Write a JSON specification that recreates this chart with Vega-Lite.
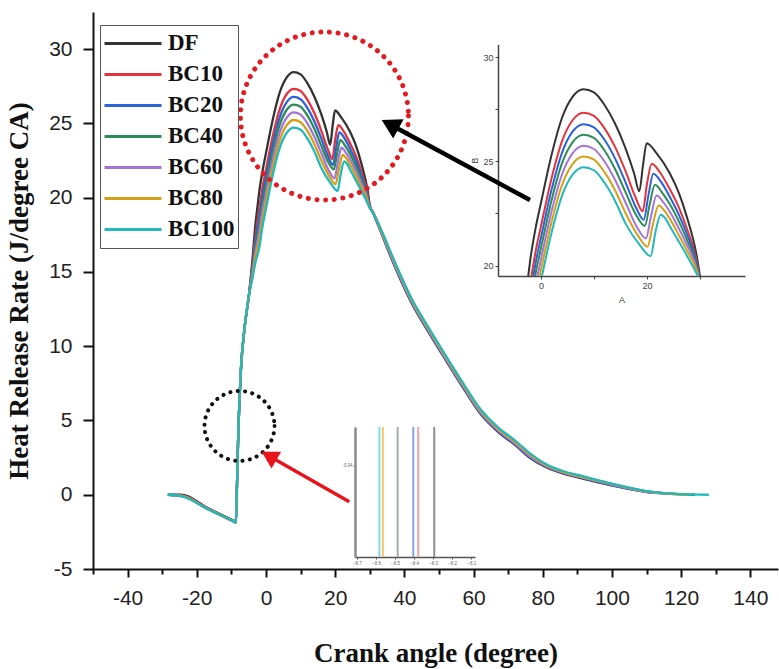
{
  "$schema": "https://vega.github.io/schema/vega-lite/v6.json",
  "autosize": {"type": "none"},
  "padding": {"left": 93, "top": 12, "right": 1, "bottom": 100},
  "width": 685,
  "height": 557,
  "background": "white",
  "config": {"view": {"stroke": null}, "axis": {"grid": false}},
  "datasets": {
    "hrr": [
      {"fuel":"DF","ca":-28.4,"hrr":0},{"fuel":"DF","ca":-24.5,"hrr":0},{"fuel":"DF","ca":-16.6,"hrr":-0.925},{"fuel":"DF","ca":-9.2,"hrr":-1.79},{"fuel":"DF","ca":-8.7,"hrr":-1.85},
      {"fuel":"DF","ca":-8.45,"hrr":0},{"fuel":"DF","ca":-8,"hrr":4.2},{"fuel":"DF","ca":-7.2,"hrr":8.6},{"fuel":"DF","ca":-6.3,"hrr":11},{"fuel":"DF","ca":-5,"hrr":13.3},
      {"fuel":"DF","ca":-4,"hrr":15.6},{"fuel":"DF","ca":-3,"hrr":18.3},{"fuel":"DF","ca":-2.4,"hrr":19.5},{"fuel":"DF","ca":-2,"hrr":20.3},{"fuel":"DF","ca":-1,"hrr":21.8},{"fuel":"DF","ca":0,"hrr":23},{"fuel":"DF","ca":2,"hrr":25.3},{"fuel":"DF","ca":4,"hrr":27.1},{"fuel":"DF","ca":6,"hrr":28.1},{"fuel":"DF","ca":8,"hrr":28.45},{"fuel":"DF","ca":10,"hrr":28.3},{"fuel":"DF","ca":12,"hrr":27.7},{"fuel":"DF","ca":14,"hrr":26.8},{"fuel":"DF","ca":16,"hrr":25.6},{"fuel":"DF","ca":17.6,"hrr":24.4},{"fuel":"DF","ca":18.55,"hrr":23.56},{"fuel":"DF","ca":19.3,"hrr":24.9},{"fuel":"DF","ca":19.95,"hrr":25.87},{"fuel":"DF","ca":21.8,"hrr":25.39},{"fuel":"DF","ca":24.3,"hrr":24.43},{"fuel":"DF","ca":26,"hrr":23.5},{"fuel":"DF","ca":27.5,"hrr":22.36},{"fuel":"DF","ca":29.4,"hrr":20.45},{"fuel":"DF","ca":30,"hrr":19.5},{"fuel":"DF","ca":31,"hrr":18.95},
      {"fuel":"DF","ca":33.2,"hrr":17.7},{"fuel":"DF","ca":36,"hrr":16.05},{"fuel":"DF","ca":42,"hrr":12.95},{"fuel":"DF","ca":47,"hrr":10.95},{"fuel":"DF","ca":52,"hrr":9.05},{"fuel":"DF","ca":57,"hrr":7.2},{"fuel":"DF","ca":62,"hrr":5.45},{"fuel":"DF","ca":67,"hrr":4.25},{"fuel":"DF","ca":72,"hrr":3.35},{"fuel":"DF","ca":76.5,"hrr":2.45},{"fuel":"DF","ca":81,"hrr":1.85},{"fuel":"DF","ca":86,"hrr":1.42},{"fuel":"DF","ca":91,"hrr":1.12},{"fuel":"DF","ca":100.5,"hrr":0.6},{"fuel":"DF","ca":111,"hrr":0.15},

      {"fuel":"BC10","ca":-28.3,"hrr":0},{"fuel":"BC10","ca":-24.3,"hrr":-0.05},{"fuel":"BC10","ca":-16.6,"hrr":-0.95},{"fuel":"BC10","ca":-9.2,"hrr":-1.77},{"fuel":"BC10","ca":-8.75,"hrr":-1.82},
      {"fuel":"BC10","ca":-8.45,"hrr":0},{"fuel":"BC10","ca":-8,"hrr":4.2},{"fuel":"BC10","ca":-7.2,"hrr":8.6},{"fuel":"BC10","ca":-6.3,"hrr":11},{"fuel":"BC10","ca":-5,"hrr":13.3},
      {"fuel":"BC10","ca":-4,"hrr":15.26},{"fuel":"BC10","ca":-3,"hrr":17.52},{"fuel":"BC10","ca":-2,"hrr":19.18},{"fuel":"BC10","ca":-1.79,"hrr":19.5},{"fuel":"BC10","ca":-1,"hrr":20.68},{"fuel":"BC10","ca":0,"hrr":21.88},{"fuel":"BC10","ca":2,"hrr":24.18},{"fuel":"BC10","ca":4,"hrr":25.98},{"fuel":"BC10","ca":6,"hrr":26.98},{"fuel":"BC10","ca":8,"hrr":27.33},{"fuel":"BC10","ca":10,"hrr":27.18},{"fuel":"BC10","ca":12,"hrr":26.58},{"fuel":"BC10","ca":14,"hrr":25.68},{"fuel":"BC10","ca":16,"hrr":24.5},{"fuel":"BC10","ca":17.8,"hrr":23.3},{"fuel":"BC10","ca":19.2,"hrr":22.6},{"fuel":"BC10","ca":20,"hrr":23.9},{"fuel":"BC10","ca":20.9,"hrr":24.88},{"fuel":"BC10","ca":22.5,"hrr":24.45},{"fuel":"BC10","ca":24.3,"hrr":23.67},{"fuel":"BC10","ca":26,"hrr":22.8},{"fuel":"BC10","ca":27.5,"hrr":21.8},{"fuel":"BC10","ca":29.4,"hrr":20.2},{"fuel":"BC10","ca":29.9,"hrr":19.5},{"fuel":"BC10","ca":31,"hrr":18.97},
      {"fuel":"BC10","ca":33.2,"hrr":17.85},{"fuel":"BC10","ca":36,"hrr":16.3},{"fuel":"BC10","ca":42,"hrr":13.2},{"fuel":"BC10","ca":47,"hrr":11.2},{"fuel":"BC10","ca":52,"hrr":9.3},{"fuel":"BC10","ca":57,"hrr":7.45},{"fuel":"BC10","ca":62,"hrr":5.7},{"fuel":"BC10","ca":67,"hrr":4.5},{"fuel":"BC10","ca":72,"hrr":3.6},{"fuel":"BC10","ca":76.5,"hrr":2.7},{"fuel":"BC10","ca":81,"hrr":2.0},{"fuel":"BC10","ca":86,"hrr":1.55},{"fuel":"BC10","ca":91,"hrr":1.25},{"fuel":"BC10","ca":100.5,"hrr":0.7},{"fuel":"BC10","ca":110,"hrr":0.22},{"fuel":"BC10","ca":120,"hrr":0.03},

      {"fuel":"BC20","ca":-28.2,"hrr":0},{"fuel":"BC20","ca":-24.2,"hrr":-0.08},{"fuel":"BC20","ca":-16.6,"hrr":-1.0},{"fuel":"BC20","ca":-9.2,"hrr":-1.84},{"fuel":"BC20","ca":-8.7,"hrr":-1.9},
      {"fuel":"BC20","ca":-8.45,"hrr":0},{"fuel":"BC20","ca":-8,"hrr":4.2},{"fuel":"BC20","ca":-7.2,"hrr":8.6},{"fuel":"BC20","ca":-6.3,"hrr":11},{"fuel":"BC20","ca":-5,"hrr":13.3},
      {"fuel":"BC20","ca":-4,"hrr":15.1},{"fuel":"BC20","ca":-3,"hrr":17.13},{"fuel":"BC20","ca":-2,"hrr":18.63},{"fuel":"BC20","ca":-1.42,"hrr":19.5},{"fuel":"BC20","ca":-1,"hrr":20.13},{"fuel":"BC20","ca":0,"hrr":21.33},{"fuel":"BC20","ca":2,"hrr":23.63},{"fuel":"BC20","ca":4,"hrr":25.43},{"fuel":"BC20","ca":6,"hrr":26.43},{"fuel":"BC20","ca":8,"hrr":26.78},{"fuel":"BC20","ca":10,"hrr":26.63},{"fuel":"BC20","ca":12,"hrr":26.03},{"fuel":"BC20","ca":14,"hrr":25.13},{"fuel":"BC20","ca":16,"hrr":23.97},{"fuel":"BC20","ca":17.9,"hrr":22.8},{"fuel":"BC20","ca":19.4,"hrr":22.2},{"fuel":"BC20","ca":20.3,"hrr":23.4},{"fuel":"BC20","ca":21.2,"hrr":24.4},{"fuel":"BC20","ca":22.7,"hrr":24.0},{"fuel":"BC20","ca":24.3,"hrr":23.3},{"fuel":"BC20","ca":26,"hrr":22.45},{"fuel":"BC20","ca":27.5,"hrr":21.53},{"fuel":"BC20","ca":29.4,"hrr":20.07},{"fuel":"BC20","ca":29.85,"hrr":19.5},{"fuel":"BC20","ca":31,"hrr":18.98},
      {"fuel":"BC20","ca":33.2,"hrr":17.75},{"fuel":"BC20","ca":36,"hrr":16.1},{"fuel":"BC20","ca":42,"hrr":13.0},{"fuel":"BC20","ca":47,"hrr":11.0},{"fuel":"BC20","ca":52,"hrr":9.1},{"fuel":"BC20","ca":57,"hrr":7.25},{"fuel":"BC20","ca":62,"hrr":5.5},{"fuel":"BC20","ca":67,"hrr":4.3},{"fuel":"BC20","ca":72,"hrr":3.4},{"fuel":"BC20","ca":76.5,"hrr":2.5},{"fuel":"BC20","ca":81,"hrr":1.9},{"fuel":"BC20","ca":86,"hrr":1.45},{"fuel":"BC20","ca":91,"hrr":1.15},{"fuel":"BC20","ca":100.5,"hrr":0.62},{"fuel":"BC20","ca":110,"hrr":0.2},{"fuel":"BC20","ca":116,"hrr":0.08},

      {"fuel":"BC40","ca":-28.3,"hrr":0},{"fuel":"BC40","ca":-24,"hrr":-0.1},{"fuel":"BC40","ca":-16.6,"hrr":-0.97},{"fuel":"BC40","ca":-9.2,"hrr":-1.75},{"fuel":"BC40","ca":-8.65,"hrr":-1.8},
      {"fuel":"BC40","ca":-8.45,"hrr":0},{"fuel":"BC40","ca":-8,"hrr":4.2},{"fuel":"BC40","ca":-7.2,"hrr":8.6},{"fuel":"BC40","ca":-6.3,"hrr":11},{"fuel":"BC40","ca":-5,"hrr":13.3},
      {"fuel":"BC40","ca":-4,"hrr":14.95},{"fuel":"BC40","ca":-3,"hrr":16.77},{"fuel":"BC40","ca":-2,"hrr":18.12},{"fuel":"BC40","ca":-1.08,"hrr":19.5},{"fuel":"BC40","ca":-1,"hrr":19.62},{"fuel":"BC40","ca":0,"hrr":20.82},{"fuel":"BC40","ca":2,"hrr":23.12},{"fuel":"BC40","ca":4,"hrr":24.92},{"fuel":"BC40","ca":6,"hrr":25.92},{"fuel":"BC40","ca":8,"hrr":26.27},{"fuel":"BC40","ca":10,"hrr":26.12},{"fuel":"BC40","ca":12,"hrr":25.52},{"fuel":"BC40","ca":14,"hrr":24.62},{"fuel":"BC40","ca":16,"hrr":23.5},{"fuel":"BC40","ca":18,"hrr":22.4},{"fuel":"BC40","ca":19.6,"hrr":21.9},{"fuel":"BC40","ca":20.5,"hrr":22.9},{"fuel":"BC40","ca":21.5,"hrr":23.87},{"fuel":"BC40","ca":23,"hrr":23.45},{"fuel":"BC40","ca":24.3,"hrr":22.95},{"fuel":"BC40","ca":26,"hrr":22.13},{"fuel":"BC40","ca":27.5,"hrr":21.27},{"fuel":"BC40","ca":29.4,"hrr":19.95},{"fuel":"BC40","ca":29.8,"hrr":19.5},{"fuel":"BC40","ca":31,"hrr":18.98},
      {"fuel":"BC40","ca":33.2,"hrr":17.8},{"fuel":"BC40","ca":36,"hrr":16.2},{"fuel":"BC40","ca":42,"hrr":13.1},{"fuel":"BC40","ca":47,"hrr":11.1},{"fuel":"BC40","ca":52,"hrr":9.2},{"fuel":"BC40","ca":57,"hrr":7.35},{"fuel":"BC40","ca":62,"hrr":5.6},{"fuel":"BC40","ca":67,"hrr":4.4},{"fuel":"BC40","ca":72,"hrr":3.5},{"fuel":"BC40","ca":76.5,"hrr":2.6},{"fuel":"BC40","ca":81,"hrr":1.95},{"fuel":"BC40","ca":86,"hrr":1.5},{"fuel":"BC40","ca":91,"hrr":1.2},{"fuel":"BC40","ca":100.5,"hrr":0.67},{"fuel":"BC40","ca":110,"hrr":0.22},{"fuel":"BC40","ca":120,"hrr":0.02},{"fuel":"BC40","ca":124,"hrr":0},

      {"fuel":"BC60","ca":-28.2,"hrr":0},{"fuel":"BC60","ca":-24.4,"hrr":-0.06},{"fuel":"BC60","ca":-16.6,"hrr":-0.98},{"fuel":"BC60","ca":-9.2,"hrr":-1.82},{"fuel":"BC60","ca":-8.7,"hrr":-1.88},
      {"fuel":"BC60","ca":-8.45,"hrr":0},{"fuel":"BC60","ca":-8,"hrr":4.2},{"fuel":"BC60","ca":-7.2,"hrr":8.6},{"fuel":"BC60","ca":-6.3,"hrr":11},{"fuel":"BC60","ca":-5,"hrr":13.3},
      {"fuel":"BC60","ca":-4,"hrr":14.79},{"fuel":"BC60","ca":-3,"hrr":16.4},{"fuel":"BC60","ca":-2,"hrr":17.59},{"fuel":"BC60","ca":-1,"hrr":19.09},{"fuel":"BC60","ca":-0.66,"hrr":19.5},{"fuel":"BC60","ca":0,"hrr":20.29},{"fuel":"BC60","ca":2,"hrr":22.59},{"fuel":"BC60","ca":4,"hrr":24.39},{"fuel":"BC60","ca":6,"hrr":25.39},{"fuel":"BC60","ca":8,"hrr":25.74},{"fuel":"BC60","ca":10,"hrr":25.59},{"fuel":"BC60","ca":12,"hrr":24.99},{"fuel":"BC60","ca":14,"hrr":24.1},{"fuel":"BC60","ca":16,"hrr":23.0},{"fuel":"BC60","ca":18.2,"hrr":21.8},{"fuel":"BC60","ca":19.8,"hrr":21.3},{"fuel":"BC60","ca":20.8,"hrr":22.4},{"fuel":"BC60","ca":21.8,"hrr":23.36},{"fuel":"BC60","ca":23.2,"hrr":23.0},{"fuel":"BC60","ca":24.3,"hrr":22.59},{"fuel":"BC60","ca":26,"hrr":21.79},{"fuel":"BC60","ca":27.5,"hrr":21.01},{"fuel":"BC60","ca":29.4,"hrr":19.83},{"fuel":"BC60","ca":29.7,"hrr":19.5},{"fuel":"BC60","ca":31,"hrr":18.99},
      {"fuel":"BC60","ca":33.2,"hrr":17.78},{"fuel":"BC60","ca":36,"hrr":16.15},{"fuel":"BC60","ca":42,"hrr":13.05},{"fuel":"BC60","ca":47,"hrr":11.05},{"fuel":"BC60","ca":52,"hrr":9.15},{"fuel":"BC60","ca":57,"hrr":7.3},{"fuel":"BC60","ca":62,"hrr":5.55},{"fuel":"BC60","ca":67,"hrr":4.35},{"fuel":"BC60","ca":72,"hrr":3.45},{"fuel":"BC60","ca":76.5,"hrr":2.55},{"fuel":"BC60","ca":81,"hrr":1.92},{"fuel":"BC60","ca":86,"hrr":1.48},{"fuel":"BC60","ca":91,"hrr":1.18},{"fuel":"BC60","ca":100.5,"hrr":0.65},{"fuel":"BC60","ca":110,"hrr":0.2},{"fuel":"BC60","ca":118,"hrr":0.05},

      {"fuel":"BC80","ca":-28.3,"hrr":0},{"fuel":"BC80","ca":-24.1,"hrr":-0.1},{"fuel":"BC80","ca":-16.6,"hrr":-0.99},{"fuel":"BC80","ca":-9.2,"hrr":-1.79},{"fuel":"BC80","ca":-8.72,"hrr":-1.84},
      {"fuel":"BC80","ca":-8.45,"hrr":0},{"fuel":"BC80","ca":-8,"hrr":4.2},{"fuel":"BC80","ca":-7.2,"hrr":8.6},{"fuel":"BC80","ca":-6.3,"hrr":11},{"fuel":"BC80","ca":-5,"hrr":13.3},
      {"fuel":"BC80","ca":-4,"hrr":14.63},{"fuel":"BC80","ca":-3,"hrr":16.05},{"fuel":"BC80","ca":-2,"hrr":17.08},{"fuel":"BC80","ca":-1,"hrr":18.58},{"fuel":"BC80","ca":-0.23,"hrr":19.5},{"fuel":"BC80","ca":0,"hrr":19.78},{"fuel":"BC80","ca":2,"hrr":22.08},{"fuel":"BC80","ca":4,"hrr":23.88},{"fuel":"BC80","ca":6,"hrr":24.88},{"fuel":"BC80","ca":8,"hrr":25.23},{"fuel":"BC80","ca":10,"hrr":25.08},{"fuel":"BC80","ca":12,"hrr":24.48},{"fuel":"BC80","ca":14,"hrr":23.6},{"fuel":"BC80","ca":16,"hrr":22.5},{"fuel":"BC80","ca":18.4,"hrr":21.4},{"fuel":"BC80","ca":20.1,"hrr":20.9},{"fuel":"BC80","ca":21.1,"hrr":21.95},{"fuel":"BC80","ca":22.2,"hrr":22.88},{"fuel":"BC80","ca":23.4,"hrr":22.6},{"fuel":"BC80","ca":24.3,"hrr":22.25},{"fuel":"BC80","ca":26,"hrr":21.47},{"fuel":"BC80","ca":27.5,"hrr":20.75},{"fuel":"BC80","ca":29.4,"hrr":19.72},{"fuel":"BC80","ca":29.65,"hrr":19.5},{"fuel":"BC80","ca":31,"hrr":19.0},
      {"fuel":"BC80","ca":33.2,"hrr":17.82},{"fuel":"BC80","ca":36,"hrr":16.25},{"fuel":"BC80","ca":42,"hrr":13.15},{"fuel":"BC80","ca":47,"hrr":11.15},{"fuel":"BC80","ca":52,"hrr":9.25},{"fuel":"BC80","ca":57,"hrr":7.4},{"fuel":"BC80","ca":62,"hrr":5.65},{"fuel":"BC80","ca":67,"hrr":4.45},{"fuel":"BC80","ca":72,"hrr":3.55},{"fuel":"BC80","ca":76.5,"hrr":2.65},{"fuel":"BC80","ca":81,"hrr":1.98},{"fuel":"BC80","ca":86,"hrr":1.52},{"fuel":"BC80","ca":91,"hrr":1.22},{"fuel":"BC80","ca":100.5,"hrr":0.7},{"fuel":"BC80","ca":110,"hrr":0.23},{"fuel":"BC80","ca":122,"hrr":0.01},

      {"fuel":"BC100","ca":-28.4,"hrr":0},{"fuel":"BC100","ca":-24,"hrr":-0.12},{"fuel":"BC100","ca":-16.6,"hrr":-1.0},{"fuel":"BC100","ca":-9.2,"hrr":-1.8},{"fuel":"BC100","ca":-8.68,"hrr":-1.86},
      {"fuel":"BC100","ca":-8.45,"hrr":0},{"fuel":"BC100","ca":-8,"hrr":4.2},{"fuel":"BC100","ca":-7.2,"hrr":8.6},{"fuel":"BC100","ca":-6.3,"hrr":11},{"fuel":"BC100","ca":-5,"hrr":13.3},
      {"fuel":"BC100","ca":-4,"hrr":14.48},{"fuel":"BC100","ca":-3,"hrr":15.69},{"fuel":"BC100","ca":-2,"hrr":16.57},{"fuel":"BC100","ca":-1,"hrr":18.07},{"fuel":"BC100","ca":0,"hrr":19.27},{"fuel":"BC100","ca":0.2,"hrr":19.5},{"fuel":"BC100","ca":2,"hrr":21.57},{"fuel":"BC100","ca":4,"hrr":23.37},{"fuel":"BC100","ca":6,"hrr":24.37},{"fuel":"BC100","ca":8,"hrr":24.72},{"fuel":"BC100","ca":10,"hrr":24.57},{"fuel":"BC100","ca":12,"hrr":23.97},{"fuel":"BC100","ca":14,"hrr":23.1},{"fuel":"BC100","ca":16,"hrr":22.0},{"fuel":"BC100","ca":18.6,"hrr":21.0},{"fuel":"BC100","ca":20.7,"hrr":20.45},{"fuel":"BC100","ca":21.6,"hrr":21.6},{"fuel":"BC100","ca":22.6,"hrr":22.44},{"fuel":"BC100","ca":23.5,"hrr":22.25},{"fuel":"BC100","ca":24.3,"hrr":21.9},{"fuel":"BC100","ca":26,"hrr":21.15},{"fuel":"BC100","ca":27.5,"hrr":20.5},{"fuel":"BC100","ca":29.4,"hrr":19.6},{"fuel":"BC100","ca":29.6,"hrr":19.5},{"fuel":"BC100","ca":31,"hrr":18.95},
      {"fuel":"BC100","ca":33.2,"hrr":17.9},{"fuel":"BC100","ca":36,"hrr":16.35},{"fuel":"BC100","ca":42,"hrr":13.25},{"fuel":"BC100","ca":47,"hrr":11.25},{"fuel":"BC100","ca":52,"hrr":9.35},{"fuel":"BC100","ca":57,"hrr":7.5},{"fuel":"BC100","ca":62,"hrr":5.75},{"fuel":"BC100","ca":67,"hrr":4.55},{"fuel":"BC100","ca":72,"hrr":3.65},{"fuel":"BC100","ca":76.5,"hrr":2.75},{"fuel":"BC100","ca":81,"hrr":2.05},{"fuel":"BC100","ca":86,"hrr":1.58},{"fuel":"BC100","ca":91,"hrr":1.28},{"fuel":"BC100","ca":100.5,"hrr":0.72},{"fuel":"BC100","ca":110,"hrr":0.25},{"fuel":"BC100","ca":120,"hrr":0.04},{"fuel":"BC100","ca":128,"hrr":0}
    ],
    "onset": [
      {"fuel":"BC100","ca":-8.582,"lo":0,"hi":0.057},
      {"fuel":"BC80","ca":-8.564,"lo":0,"hi":0.057},
      {"fuel":"BC40","ca":-8.486,"lo":0,"hi":0.057},
      {"fuel":"BC20","ca":-8.404,"lo":0,"hi":0.057},
      {"fuel":"BC10","ca":-8.378,"lo":0,"hi":0.057},
      {"fuel":"DF","ca":-8.294,"lo":0,"hi":0.057}
    ]
  },
  "layer": [
    {
      "layer": [
        {
          "data": {"name": "hrr"},
          "mark": {"type": "line", "interpolate": "monotone", "strokeWidth": 2.3, "clip": true},
          "encoding": {
            "x": {
              "field": "ca", "type": "quantitative",
              "scale": {"domain": [-50, 148], "nice": false, "zero": false},
              "axis": {
                "orient": "bottom",
                "title": "Crank angle (degree)",
                "values": [-40,-20,0,20,40,60,80,100,120,140],
                "labelExpr": "'' + datum.value",
                "tickSize": 8,
                "tickWidth": 2, "tickColor": "#111",
                "domainColor": "#111", "domainWidth": 2,
                "labelFont": "Liberation Sans", "labelFontSize": 21, "labelColor": "#222",
                "labelPadding": 10, "labelOverlap": false, "labelFlush": false,
                "titleFont": "Liberation Serif", "titleFontSize": 27, "titleFontWeight": "bold", "titleColor": "#111",
                "titlePadding": 32
              }
            },
            "y": {
              "field": "hrr", "type": "quantitative",
              "scale": {"domain": [-5, 32.5], "nice": false, "zero": false},
              "axis": {
                "orient": "left",
                "title": "Heat Release Rate (J/degree CA)",
                "values": [-5,-2.5,0,2.5,5,7.5,10,12.5,15,17.5,20,22.5,25,27.5,30,32.5],
                "labelExpr": "datum.value % 5 === 0 ? '' + datum.value : ''",
                "tickSize": {"condition": {"test": "datum.value % 5 === 0", "value": 10}, "value": 6},
                "tickWidth": 2, "tickColor": "#111",
                "domainColor": "#111", "domainWidth": 2,
                "labelFont": "Liberation Sans", "labelFontSize": 21, "labelColor": "#222",
                "labelPadding": 11, "labelOverlap": false, "labelFlush": false,
                "titleFont": "Liberation Serif", "titleFontSize": 27, "titleFontWeight": "bold", "titleColor": "#111",
                "titlePadding": 15
              }
            },
            "color": {
              "field": "fuel", "type": "nominal",
              "scale": {
                "domain": ["DF","BC10","BC20","BC40","BC60","BC80","BC100"],
                "range": ["#333333","#e3343c","#2a62d8","#2e8b57","#a474d6","#d4a017","#22b8bc"]
              },
              "legend": {
                "title": null,
                "orient": "none", "legendX": 7, "legendY": 13,
                "symbolType": "stroke", "symbolSize": 3249, "symbolStrokeWidth": 3, "symbolOpacity": 1,
                "clipHeight": 30.8, "rowPadding": 0, "padding": 3,
                "labelFont": "Liberation Serif", "labelFontSize": 23, "labelFontWeight": "bold",
                "labelColor": "#111", "labelOffset": 5,
                "strokeColor": "#555", "fillColor": "white"
              }
            }
          }
        },
        {
          "data": {"values": [{"ca": 16.9, "hrr": 25.5}]},
          "mark": {"type": "point", "shape": "circle", "size": 28224, "filled": false, "color": "#e31b23", "opacity": 1, "strokeWidth": 5, "strokeDash": [0.1, 8.6], "strokeCap": "round"},
          "encoding": {"x": {"field": "ca", "type": "quantitative"}, "y": {"field": "hrr", "type": "quantitative"}}
        },
        {
          "data": {"values": [{"ca": -7.65, "hrr": 4.63}]},
          "mark": {"type": "point", "shape": "circle", "size": 4900, "filled": false, "color": "#111", "opacity": 1, "strokeWidth": 4, "strokeDash": [0.1, 7.3], "strokeCap": "round"},
          "encoding": {"x": {"field": "ca", "type": "quantitative"}, "y": {"field": "hrr", "type": "quantitative"}}
        },
        {
          "data": {"values": [{"ca": 76.3, "hrr": 19.84, "ca2": 35.86, "hrr2": 24.93}]},
          "mark": {"type": "rule", "color": "#000", "strokeWidth": 4.5},
          "encoding": {"x": {"field": "ca", "type": "quantitative"}, "y": {"field": "hrr", "type": "quantitative"}, "x2": {"field": "ca2"}, "y2": {"field": "hrr2"}}
        },
        {
          "data": {"values": [{"ca": 35.86, "hrr": 24.93}]},
          "mark": {"type": "point", "shape": "triangle-up", "size": 480, "filled": true, "color": "#000", "opacity": 1, "angle": 298.3},
          "encoding": {"x": {"field": "ca", "type": "quantitative"}, "y": {"field": "hrr", "type": "quantitative"}}
        },
        {
          "data": {"values": [{"ca": 24.08, "hrr": -0.47, "ca2": 0.87, "hrr2": 2.61}]},
          "mark": {"type": "rule", "color": "#e8141c", "strokeWidth": 3.5},
          "encoding": {"x": {"field": "ca", "type": "quantitative"}, "y": {"field": "hrr", "type": "quantitative"}, "x2": {"field": "ca2"}, "y2": {"field": "hrr2"}}
        },
        {
          "data": {"values": [{"ca": 0.87, "hrr": 2.61}]},
          "mark": {"type": "point", "shape": "triangle-up", "size": 380, "filled": true, "color": "#e8141c", "opacity": 1, "angle": 299.7},
          "encoding": {"x": {"field": "ca", "type": "quantitative"}, "y": {"field": "hrr", "type": "quantitative"}}
        }
      ]
    },
    {
      "data": {"name": "hrr"},
      "mark": {"type": "point", "opacity": 0},
      "encoding": {
        "x": {
          "field": "ca", "type": "quantitative",
          "scale": {"domain": [-50, 148], "nice": false, "zero": false},
          "axis": {
            "orient": "bottom", "title": null, "labels": false, "domain": false,
            "values": [-50,-30,-10,10,30,50,70,90,110,130],
            "tickSize": 5, "tickWidth": 2, "tickColor": "#111"
          }
        },
        "y": {
          "field": "hrr", "type": "quantitative",
          "scale": {"domain": [-5, 32.5], "nice": false, "zero": false},
          "axis": null
        }
      }
    },
    {
      "data": {"name": "hrr"},
      "transform": [{"filter": "datum.hrr >= 19.5 && datum.ca > -8 && datum.ca < 38"}],
      "mark": {"type": "line", "interpolate": "monotone", "strokeWidth": 2},
      "encoding": {
        "x": {
          "field": "ca", "type": "quantitative",
          "scale": {"domain": [-8.1, 38.5], "range": [405, 652], "nice": false, "zero": false},
          "axis": {
            "orient": "bottom", "offset": -293, "title": "A",
            "values": [0, 10, 20, 30],
            "labelExpr": "datum.value % 20 === 0 ? '' + datum.value : ''",
            "tickSize": 3, "tickColor": "#444", "domainColor": "#444", "domainWidth": 1.5,
            "labelFont": "Liberation Sans", "labelFontSize": 9, "labelColor": "#444", "labelPadding": 2,
            "titleFont": "Liberation Sans", "titleFontSize": 9, "titleFontWeight": "normal", "titleColor": "#444", "titlePadding": 5
          }
        },
        "y": {
          "field": "hrr", "type": "quantitative",
          "scale": {"domain": [19.5, 30.6], "range": [264, 32.5], "nice": false, "zero": false},
          "axis": {
            "orient": "left", "offset": -405, "title": "B",
            "values": [20, 22.5, 25, 27.5, 30],
            "labelExpr": "datum.value % 5 === 0 ? '' + datum.value : ''",
            "tickSize": 3, "tickColor": "#444", "domainColor": "#444", "domainWidth": 1.5,
            "labelFont": "Liberation Sans", "labelFontSize": 9, "labelColor": "#444", "labelPadding": 2,
            "titleFont": "Liberation Sans", "titleFontSize": 9, "titleFontWeight": "normal", "titleColor": "#444", "titlePadding": 3
          }
        },
        "color": {"field": "fuel", "type": "nominal"}
      }
    },
    {
      "data": {"name": "onset"},
      "mark": {"type": "rule", "strokeWidth": 2},
      "encoding": {
        "x": {
          "field": "ca", "type": "quantitative",
          "scale": {"domain": [-8.71, -8.08], "range": [262, 382], "nice": false, "zero": false},
          "axis": {
            "orient": "bottom", "offset": -12, "title": null,
            "values": [-8.7, -8.6, -8.5, -8.4, -8.3, -8.2, -8.1], "format": ".1f",
            "tickSize": 2, "tickColor": "#555", "domainColor": "#555", "domainWidth": 1.5,
            "labelFont": "Liberation Sans", "labelFontSize": 4.5, "labelColor": "#666", "labelPadding": 1
          }
        },
        "y": {
          "field": "lo", "type": "quantitative",
          "scale": {"domain": [0, 0.057], "range": [545, 415], "nice": false, "zero": false},
          "axis": {
            "orient": "left", "offset": -262, "title": null,
            "values": [0.04], "format": ".2f",
            "tickSize": 2, "tickColor": "#777", "domainColor": "#8a8a8a", "domainWidth": 2.5,
            "labelFont": "Liberation Sans", "labelFontSize": 4.5, "labelColor": "#666", "labelPadding": 1
          }
        },
        "y2": {"field": "hi"},
        "stroke": {
          "field": "fuel", "type": "nominal",
          "scale": {
            "domain": ["DF","BC10","BC20","BC40","BC80","BC100"],
            "range": ["#8e8e98","#f0a4a8","#7ea6e6","#a0aeb0","#f3c46a","#7fdce4"]
          },
          "legend": null
        }
      }
    }
  ],
  "resolve": {"scale": {"x": "independent", "y": "independent"}}
}
